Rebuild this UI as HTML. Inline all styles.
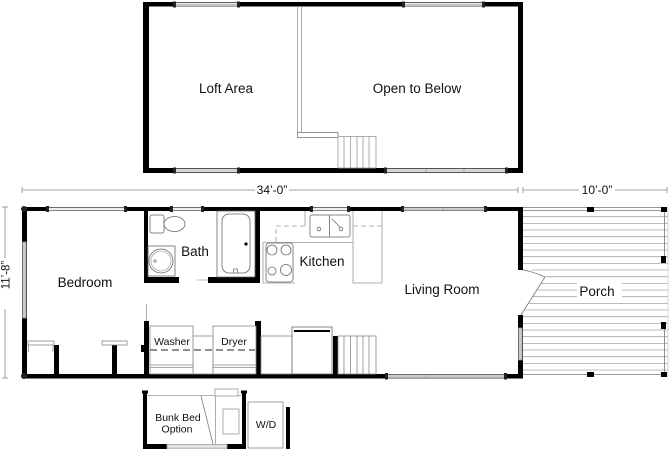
<!DOCTYPE html>
<html><head><meta charset="utf-8"><style>
html,body{margin:0;padding:0;background:#fff;}
svg{display:block}
text{font-family:"Liberation Sans",Arial,sans-serif;fill:#111}
</style></head><body>
<svg width="670" height="450" viewBox="0 0 670 450" xmlns="http://www.w3.org/2000/svg">
<rect width="670" height="450" fill="#fff"/>

<!-- ================= LOFT ================= -->
<g fill="#000">
  <rect x="143" y="2" width="380" height="4.5"/>
  <rect x="143" y="2" width="6" height="171"/>
  <rect x="518" y="2" width="5" height="171"/>
  <rect x="143" y="168" width="380" height="5"/>
</g>
<g fill="#f2f2f2" stroke="#8a8a8a" stroke-width="0.8">
  <rect x="175" y="2.7" width="63" height="3.2"/>
  <rect x="404" y="2.7" width="79" height="3.2"/>
  <rect x="175" y="168.8" width="63" height="3.4"/>
  <rect x="386" y="168.8" width="120" height="3.4"/>
</g>
<g stroke="#aaa" stroke-width="0.6">
  <line x1="175" y1="4.3" x2="238" y2="4.3"/>
  <line x1="404" y1="4.3" x2="483" y2="4.3"/>
  <line x1="175" y1="170.5" x2="238" y2="170.5"/>
  <line x1="386" y1="170.5" x2="506" y2="170.5"/>
  <line x1="426" y1="168.8" x2="426" y2="172.2" stroke="#888"/>
  <line x1="464" y1="168.8" x2="464" y2="172.2" stroke="#888"/>
</g>
<g fill="#222">
  <rect x="173" y="1.5" width="3" height="6"/><rect x="237" y="1.5" width="3" height="6"/>
  <rect x="402" y="1.5" width="3" height="6"/><rect x="482" y="1.5" width="3" height="6"/>
  <rect x="173" y="167.5" width="3" height="6"/><rect x="237" y="167.5" width="3" height="6"/>
  <rect x="384" y="167.5" width="3" height="6"/><rect x="505" y="167.5" width="3" height="6"/>
</g>
<!-- loft interior -->
<g stroke="#999" stroke-width="0.8" fill="none">
  <line x1="297.5" y1="6" x2="297.5" y2="132"/>
  <line x1="301.5" y1="6" x2="301.5" y2="132"/>
  <rect x="297.5" y="132.5" width="40.5" height="5" fill="#fff" stroke="#777"/>
  <rect x="338" y="136.5" width="38" height="31.5"/>
  <line x1="344" y1="136.5" x2="344" y2="168"/>
  <line x1="350.5" y1="136.5" x2="350.5" y2="168"/>
  <line x1="357" y1="136.5" x2="357" y2="168"/>
  <line x1="363" y1="136.5" x2="363" y2="168"/>
  <line x1="369" y1="136.5" x2="369" y2="168"/>
</g>
<text x="226" y="93" font-size="13.5" text-anchor="middle">Loft Area</text>
<text x="417" y="93" font-size="13.5" text-anchor="middle">Open to Below</text>

<!-- ================= DIMENSIONS ================= -->
<g stroke="#888" stroke-width="0.8">
  <line x1="22" y1="190" x2="255" y2="190"/>
  <line x1="289" y1="190" x2="518" y2="190"/>
  <line x1="22" y1="187" x2="22" y2="193"/>
  <line x1="518" y1="187" x2="518" y2="193"/>
  <line x1="523" y1="187" x2="523" y2="193"/>
  <line x1="523" y1="190" x2="579" y2="190"/>
  <line x1="615" y1="190" x2="667" y2="190"/>
  <line x1="667" y1="187" x2="667" y2="193"/>
  <line x1="5" y1="207" x2="5" y2="258"/>
  <line x1="5" y1="309" x2="5" y2="378"/>
  <line x1="2" y1="207" x2="8" y2="207"/>
  <line x1="2" y1="378" x2="8" y2="378"/>
</g>
<text x="272" y="194" font-size="12" text-anchor="middle">34’-0”</text>
<text x="597" y="194" font-size="12" text-anchor="middle">10’-0”</text>
<text transform="translate(9.5,275) rotate(-90)" font-size="11.5" text-anchor="middle">11’-8”</text>

<!-- ================= PORCH ================= -->
<g stroke="#a5a5a5" stroke-width="0.8">
  <line x1="523" y1="216.7" x2="668" y2="216.7"/>
  <line x1="523" y1="223.4" x2="668" y2="223.4"/>
  <line x1="523" y1="230.0" x2="668" y2="230.0"/>
  <line x1="523" y1="236.7" x2="668" y2="236.7"/>
  <line x1="523" y1="243.4" x2="668" y2="243.4"/>
  <line x1="523" y1="250.0" x2="668" y2="250.0"/>
  <line x1="523" y1="256.7" x2="668" y2="256.7"/>
  <line x1="523" y1="263.4" x2="668" y2="263.4"/>
  <line x1="523" y1="270.0" x2="668" y2="270.0"/>
  <line x1="523" y1="276.7" x2="668" y2="276.7"/>
  <line x1="523" y1="283.4" x2="668" y2="283.4"/>
  <line x1="523" y1="290.0" x2="668" y2="290.0"/>
  <line x1="523" y1="296.7" x2="668" y2="296.7"/>
  <line x1="523" y1="303.4" x2="668" y2="303.4"/>
  <line x1="523" y1="310.0" x2="668" y2="310.0"/>
  <line x1="523" y1="316.7" x2="668" y2="316.7"/>
  <line x1="523" y1="323.4" x2="668" y2="323.4"/>
  <line x1="523" y1="330.0" x2="668" y2="330.0"/>
  <line x1="523" y1="336.7" x2="668" y2="336.7"/>
  <line x1="523" y1="343.4" x2="668" y2="343.4"/>
  <line x1="523" y1="350.0" x2="668" y2="350.0"/>
  <line x1="523" y1="356.7" x2="668" y2="356.7"/>
  <line x1="523" y1="363.4" x2="668" y2="363.4"/>
  <line x1="523" y1="370.0" x2="668" y2="370.0"/>
</g>
<!-- door swing clearing -->
<path d="M523,268 Q535,270 546,276 L521,316 L523,316 Z" fill="#fff"/>
<rect x="577" y="283" width="45" height="16" fill="#fff"/>
<g stroke="#777" stroke-width="0.8" fill="none">
  <path d="M518,269 Q532,271 545,277"/>
  <line x1="545" y1="277" x2="521" y2="315"/>
  <line x1="523" y1="207.5" x2="667" y2="207.5"/>
  <line x1="523" y1="210.5" x2="667" y2="210.5"/>
  <line x1="523" y1="374.5" x2="667" y2="374.5"/>
  <line x1="664.5" y1="211" x2="664.5" y2="257"/>
  <line x1="664.5" y1="328" x2="664.5" y2="373"/>
  <line x1="668" y1="207" x2="668" y2="377" stroke="#ccc"/>
</g>
<g fill="#000">
  <rect x="587" y="207" width="7" height="5"/>
  <rect x="661" y="207" width="6" height="5"/>
  <rect x="661" y="256" width="5" height="7"/>
  <rect x="661" y="322" width="5" height="7"/>
  <rect x="587" y="372" width="7" height="5"/>
  <rect x="661" y="372" width="6" height="5"/>
</g>
<text x="597" y="296" font-size="13.5" text-anchor="middle">Porch</text>

<!-- ================= MAIN FLOOR WALLS ================= -->
<g fill="#000">
  <rect x="22" y="207" width="501" height="4"/>
  <rect x="22" y="374" width="501" height="4.5"/>
  <rect x="22" y="207" width="5" height="171"/>
  <rect x="518" y="207" width="5" height="63"/>
  <rect x="518" y="315" width="5" height="63"/>
  <!-- interior -->
  <rect x="144" y="207" width="4" height="76"/>
  <rect x="144" y="277" width="35" height="6"/>
  <rect x="208" y="277" width="52" height="6"/>
  <rect x="255" y="207" width="5" height="76"/>
  <rect x="144" y="321" width="5" height="53"/>
  <rect x="255" y="321" width="6" height="53"/>
  <rect x="333" y="336" width="5" height="38"/>
  <rect x="54" y="345" width="5" height="29"/>
  <rect x="112" y="345" width="5" height="29"/>
  <rect x="141" y="345" width="4" height="7"/>
</g>
<!-- main windows -->
<g fill="#eee" stroke="#8a8a8a" stroke-width="0.8">
  <rect x="48" y="207.6" width="77" height="2.9"/>
  <rect x="172" y="207.6" width="30" height="2.9"/>
  <rect x="312" y="207.6" width="36" height="2.9"/>
  <rect x="403" y="207.6" width="82" height="2.9" fill="#ccc"/>
  <rect x="387" y="374.6" width="118" height="3.3" fill="#ccc"/>
  <rect x="22.6" y="242" width="3.6" height="76" fill="#ccc"/>
  <rect x="518.6" y="328" width="3.6" height="32" fill="#ccc"/>
</g>
<g stroke="#999" stroke-width="0.7">
  <line x1="443" y1="207.6" x2="443" y2="210.5"/>
  <line x1="426" y1="374.6" x2="426" y2="378"/>
  <line x1="464" y1="374.6" x2="464" y2="378"/>
  <line x1="22.6" y1="280" x2="26.2" y2="280"/>
</g>
<g fill="#222">
  <rect x="46" y="206" width="3" height="6"/><rect x="124" y="206" width="3" height="6"/>
  <rect x="170" y="206" width="3" height="6"/><rect x="201" y="206" width="3" height="6"/>
  <rect x="310" y="206" width="3" height="6"/><rect x="347" y="206" width="3" height="6"/>
  <rect x="401" y="206" width="3" height="6"/><rect x="484" y="206" width="3" height="6"/>
  <rect x="385" y="373" width="3" height="6.5"/><rect x="504" y="373" width="3" height="6.5"/>
  <circle cx="24" cy="209" r="3"/><circle cx="24" cy="376" r="3"/>
</g>

<!-- closet shelves -->
<g fill="#fff" stroke="#888" stroke-width="0.8">
  <rect x="28" y="341" width="26" height="4"/>
  <rect x="102" y="341" width="25" height="4"/>
  <line x1="28.5" y1="345" x2="28.5" y2="352"/>
  <line x1="53" y1="345" x2="53" y2="352"/>
</g>
<line x1="146.5" y1="304" x2="146.5" y2="321" stroke="#999" stroke-width="0.8"/>

<!-- bath fixtures -->
<g fill="#fff" stroke="#666" stroke-width="0.8">
  <rect x="150" y="215" width="14" height="18" rx="2"/>
  <ellipse cx="174.5" cy="224" rx="10.5" ry="7.5"/>
  <rect x="148" y="246" width="27" height="30"/>
  <circle cx="161" cy="261" r="12"/>
  <circle cx="161" cy="261" r="10" stroke="#aaa"/>
  <rect x="217" y="211" width="38" height="66"/>
  <rect x="222" y="214" width="28" height="59" rx="7"/>
  <line x1="197" y1="280" x2="208" y2="280" stroke="#aaa"/>
  <rect x="233.5" y="269" width="4" height="4" stroke="#777"/>
</g>
<circle cx="246" cy="244" r="1.6" fill="#000"/>
<circle cx="155" cy="261" r="1.2" fill="none" stroke="#555" stroke-width="0.6"/>
<text x="195" y="256" font-size="13.5" text-anchor="middle">Bath</text>

<!-- kitchen -->
<g fill="none" stroke="#999" stroke-width="0.8">
  <path d="M276,242 V226 H307" stroke-dasharray="5,3"/>
  <line x1="353" y1="226" x2="382" y2="226" stroke-dasharray="5,3"/>
  <line x1="263" y1="242.5" x2="353" y2="242.5"/>
  <line x1="263" y1="242.5" x2="263" y2="283"/>
  <line x1="263" y1="283" x2="295" y2="283"/>
  <line x1="353" y1="211" x2="353" y2="283"/>
  <line x1="382" y1="211" x2="382" y2="283"/>
  <line x1="353" y1="283" x2="382" y2="283"/>
  <line x1="305" y1="211" x2="305" y2="226"/>
</g>
<g fill="#fff" stroke="#666" stroke-width="0.8">
  <rect x="310" y="215" width="40" height="22" rx="2"/>
  <line x1="329.5" y1="215" x2="329.5" y2="237"/>
  <circle cx="319" cy="229" r="1.8"/>
  <circle cx="341" cy="229" r="1.8"/>
  <line x1="332" y1="219" x2="340" y2="227"/>
  <rect x="266" y="243" width="27" height="39" rx="3"/>
  <circle cx="272" cy="250" r="5"/>
  <circle cx="286" cy="250" r="5"/>
  <circle cx="272" cy="271" r="4"/>
  <circle cx="286" cy="270" r="5.5"/>
</g>
<text x="322" y="266" font-size="13.5" text-anchor="middle">Kitchen</text>
<text x="442" y="294" font-size="13.5" text-anchor="middle">Living Room</text>
<text x="85" y="287" font-size="13.5" text-anchor="middle">Bedroom</text>

<!-- laundry / lower -->
<g fill="#fff" stroke="#888" stroke-width="0.8">
  <rect x="193" y="336" width="20" height="38"/>
  <rect x="261" y="336" width="31" height="38"/>
  <rect x="150" y="326" width="43" height="48"/>
  <rect x="213" y="326" width="43" height="48"/>
  <line x1="150" y1="365" x2="193" y2="365"/>
  <line x1="150" y1="367.5" x2="193" y2="367.5"/>
  <line x1="213" y1="365" x2="256" y2="365"/>
  <line x1="213" y1="367.5" x2="256" y2="367.5"/>
  <rect x="292" y="327" width="40" height="47" stroke="#666"/>
  <rect x="338" y="336" width="38" height="38"/>
  <line x1="344" y1="336" x2="344" y2="374"/>
  <line x1="350.5" y1="336" x2="350.5" y2="374"/>
  <line x1="357" y1="336" x2="357" y2="374"/>
  <line x1="363" y1="336" x2="363" y2="374"/>
  <line x1="369" y1="336" x2="369" y2="374"/>
</g>
<rect x="294" y="330" width="36" height="2" fill="#000"/>
<line x1="150" y1="350" x2="255" y2="350" stroke="#222" stroke-width="1" stroke-dasharray="7,4"/>
<text x="172" y="345" font-size="10.5" text-anchor="middle">Washer</text>
<text x="234" y="345" font-size="10.5" text-anchor="middle">Dryer</text>

<!-- ================= BUNK ================= -->
<g fill="#000">
  <rect x="143" y="392" width="4" height="57"/>
  <rect x="142" y="390.5" width="6" height="3"/>
  <rect x="143" y="444" width="24" height="5"/>
  <rect x="227" y="444" width="19" height="5"/>
  <rect x="242" y="392" width="4" height="57"/>
  <rect x="241" y="390.5" width="6" height="3"/>
  <rect x="286" y="407" width="4" height="42"/>
</g>
<g fill="#fff" stroke="#999" stroke-width="0.8">
  <rect x="167" y="444.6" width="60" height="3.6" fill="#e6e6e6"/>
  <line x1="147" y1="395.5" x2="242" y2="395.5"/>
  <rect x="215" y="389" width="23" height="7"/>
  <line x1="215.5" y1="396" x2="215.5" y2="444"/>
  <line x1="201" y1="396" x2="213" y2="444" stroke="#777"/>
  <rect x="223" y="409" width="16" height="25"/>
  <rect x="248" y="402" width="35" height="46" stroke="#888"/>
</g>
<text x="178" y="421" font-size="10.5" text-anchor="middle">Bunk Bed</text>
<text x="177" y="432.5" font-size="10.5" text-anchor="middle">Option</text>
<text x="266" y="428" font-size="10.5" text-anchor="middle">W/D</text>
</svg>
</body></html>
